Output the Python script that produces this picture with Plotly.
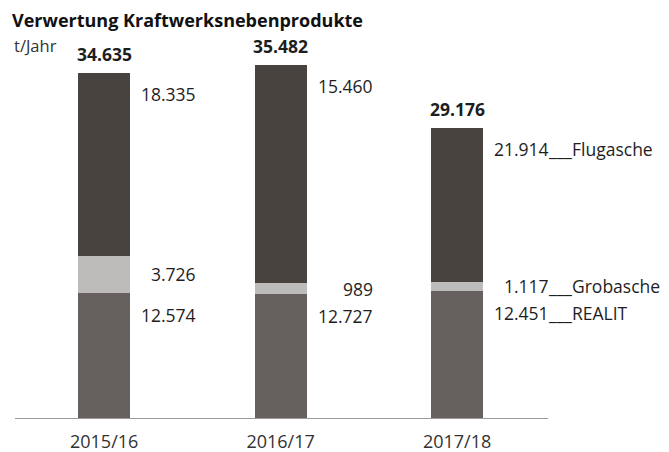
import plotly.graph_objects as go

years = ["2015/16", "2016/17", "2017/18"]
realit = [12574, 12451, 12727]
grobasche = [3726, 1117, 989]
flugasche = [18335, 21914, 15460]
series_names = ["REALIT", "Grobasche", "Flugasche"]
# the source graphic prints the segment labels of 2016/17 and 2017/18 the other way round
label_order = [0, 2, 1]

colors = {"REALIT": "#66615e", "Grobasche": "#bdbcba", "Flugasche": "#48433f"}
font = "Open Sans"
text_color = "#1e1e1e"

# body of the html page has an 8px margin, so everything is shifted by -8px here
OFF = 8


def de(v):
	return f"{v:,}".replace(",", ".")


fig = go.Figure()
for name, values in zip(series_names, [realit, grobasche, flugasche]):
	fig.add_trace(go.Bar(
		x=years, y=values, name=name,
		marker=dict(color=colors[name], line=dict(width=0)),
		width=0.295, hoverinfo="x+y+name"
	))

annotations = []
for i, year in enumerate(years):
	j = label_order[i]
	total = realit[i] + grobasche[i] + flugasche[i]
	# Summe über dem Balken
	annotations.append(dict(
		x=year, y=total, text=f"<b>{de(total)}</b>", showarrow=False,
		yanchor="middle", yshift=19, font=dict(size=17.5, color=text_color)
	))
	seg = [
		(realit[i], -22, de(realit[j]), "REALIT"),
		(realit[i] + grobasche[i] / 2, 0, de(grobasche[j]), "Grobasche"),
		(total, -21, de(flugasche[j]), "Flugasche"),
	]
	for y, ys, txt, name in seg:
		annotations.append(dict(
			x=year, y=y, text=txt, showarrow=False, xanchor="right", yanchor="middle",
			xshift=94, yshift=ys, font=dict(size=17.5, color=text_color)
		))
		if i == len(years) - 1:
			annotations.append(dict(
				x=year, y=y, text="___" + name, showarrow=False, xanchor="left", yanchor="middle",
				xshift=89, yshift=ys, font=dict(size=17.5, color=text_color)
			))

annotations.append(dict(
	xref="paper", yref="paper", x=0, y=1, xshift=-3, yshift=-7, text="t/Jahr",
	showarrow=False, xanchor="left", yanchor="middle", font=dict(size=16.5, color="#333333")
))

fig.update_layout(
	barmode="stack",
	width=669, height=452,
	margin=dict(l=15 - OFF, r=121 + OFF, t=38 - OFF, b=34 + OFF, autoexpand=False),
	plot_bgcolor="white", paper_bgcolor="white",
	showlegend=False,
	font=dict(family=font, color=text_color),
	title=dict(
		text="<b>Verwertung Kraftwerksnebenprodukte</b>",
		xref="container", yref="container", x=(12 - OFF) / 669, xanchor="left",
		y=1 - (21 - OFF) / 452, yanchor="middle", font=dict(size=18, color="#111111")
	),
	annotations=annotations,
	xaxis=dict(
		range=[-0.505, 2.515], showgrid=False, zeroline=False, automargin=False,
		showline=True, linecolor="#9a9a9a", linewidth=1,
		ticks="outside", ticklen=7, tickcolor="rgba(0,0,0,0)",
		tickfont=dict(size=18, color="#333333")
	),
	yaxis=dict(range=[0, 38200], visible=False, automargin=False),
)

fig.write_html("out.html")
